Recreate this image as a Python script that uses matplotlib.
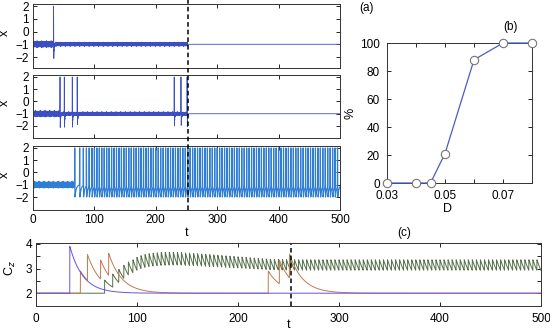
import numpy as np
import matplotlib
matplotlib.use("Agg")
import matplotlib.pyplot as plt
from matplotlib.lines import Line2D

plt.rcParams['font.family'] = ['Liberation Sans', 'DejaVu Sans']
plt.rcParams['font.size'] = 8.5

# ---------------- data ----------------
t_end = 500.0
switch_t = 252.0                      # dashed line (noise switched off)
# spike times of the three x(t) traces
spikes_a1 = [33.5]
spikes_a2 = [44.0, 51.0, 64.0, 72.0, 230.0, 241.0, 251.0]
spikes_a3_early = [68.0, 76.0, 82.0, 87.0, 91.5, 96.0]
a3_period = 4.0                       # regular firing after onset
# hand-typed noise texture around the rest state x = -1
noise_vals = [0.12, -0.08, 0.18, -0.15, 0.05, -0.20, 0.10, 0.02, -0.12, 0.22,
              -0.05, 0.08, -0.18, 0.14, -0.02, 0.16, -0.10, 0.04, -0.22, 0.09,
              0.20, -0.06, 0.11, -0.16, 0.03, -0.09, 0.19, -0.13, 0.07, -0.01,
              0.15, -0.19, 0.06, 0.13, -0.11, 0.01, -0.17, 0.21, -0.04, 0.10,
              -0.14, 0.17, -0.07, 0.05, -0.21, 0.12, 0.00, -0.10, 0.18, -0.03,
              0.08, -0.15, 0.14, -0.08, 0.23, -0.12, 0.02, -0.18, 0.11, -0.05,
              0.09, -0.24, 0.16, -0.02, 0.06, -0.13, 0.28, -0.07, 0.04, -0.26,
              0.13, -0.01, 0.07, -0.11, 0.19, -0.16, 0.03]
x_rest = -1.0
x_peak = 2.0
x_trough = -2.0

# panel (b)
D_vals = [0.03, 0.04, 0.045, 0.05, 0.06, 0.07, 0.08]
pct_vals = [0, 0, 0, 21, 88, 100, 100]

# panel (c): C_z responses (jump heights at spike times, decay time)
cz_base = 2.0
purple_jumps = [1.9]
brown_jumps = [0.90, 1.04, 0.77, 0.89, 0.90, 0.96, 0.97]
tau_purple = 13.0
tau_brown = 13.0
tau_green = 10.5
green_jump_t = [68, 130, 230, 500]
green_jump_J = [0.53, 0.53, 0.43, 0.43]

# ---------------- build traces ----------------
dt = 0.1
t = np.arange(0, t_end + dt, dt)
nv = np.array(noise_vals)


def noise(offset):
    return nv[(np.arange(t.size) + offset) % nv.size]


def x_trace(spikes, offset, noisy_until, rec_tau):
    x = np.full(t.size, x_rest) + np.where(t < noisy_until, noise(offset), 0.0)
    sp = list(spikes) + [t_end + 10]
    for k, ts in enumerate(sp[:-1]):
        nxt = sp[k + 1]
        up = (t >= ts - 0.3) & (t < ts)
        x[up] = x_rest + (x_peak - x_rest) * (t[up] - (ts - 0.3)) / 0.3
        dn = (t >= ts) & (t < ts + 0.4)
        x[dn] = x_peak - (x_peak - x_trough) * (t[dn] - ts) / 0.4
        rec = (t >= ts + 0.4) & (t < nxt - 0.3)
        base = x_rest + np.where(t[rec] < noisy_until, 0.6 * noise(offset)[rec], 0.0)
        x[rec] = base - (x_rest - x_trough) * np.exp(-(t[rec] - ts - 0.4) / rec_tau)
    return x


spikes_a3 = list(spikes_a3_early) + list(np.arange(spikes_a3_early[-1] + a3_period,
                                                    t_end, a3_period))
x1 = x_trace(spikes_a1, 0, switch_t, 0.5)
x2 = x_trace(spikes_a2, 23, switch_t, 0.5)
x3 = x_trace(spikes_a3, 41, spikes_a3_early[0], 2.0)


def cz(spikes, jumps, tau):
    c = np.full(t.size, cz_base)
    for ts, J in zip(spikes, jumps):
        m = t >= ts
        c[m] += J * np.exp(-(t[m] - ts) / tau)
    return c


cz_purple = cz(spikes_a1, purple_jumps, tau_purple)
cz_brown = cz(spikes_a2, brown_jumps, tau_brown)
cz_green = cz(spikes_a3, np.interp(spikes_a3, green_jump_t, green_jump_J), tau_green)

# ---------------- figure ----------------
W, H = 550, 330
fig = plt.figure(figsize=(W / 100, H / 100), dpi=100)


def box(x0, y0, x1_, y1_):
    return [x0 / W, 1 - y1_ / H, (x1_ - x0) / W, (y1_ - y0) / H]


col_a = '#3b4fc2'
col_a3 = '#2f7dd4'
tick_kw = dict(direction='in', top=True, right=True, length=3, width=0.6,
               pad=3, labelsize=8.5)

axes_a = []
specs = [((33, 4, 340, 68), (-2.86, 2.16), x1, col_a, 0.6),
         ((33, 75, 340, 138), (-2.98, 2.16), x2, col_a, 0.6),
         ((33, 146, 340, 210), (-3.06, 2.16), x3, col_a3, 0.85)]
for i, (bx, yl, xs, col, lw) in enumerate(specs):
    ax = fig.add_axes(box(*bx))
    ax.plot(t, xs, color=col, lw=lw)
    ax.set_xlim(0, 500)
    ax.set_ylim(*yl)
    ax.set_yticks([-2, -1, 0, 1, 2])
    ax.set_xticks([0, 100, 200, 300, 400, 500])
    ax.tick_params(**tick_kw)
    ax.set_ylabel('x', fontsize=9)
    ax.yaxis.set_label_coords(-0.072, 0.55)
    if i < 2:
        ax.set_xticklabels([])
    for s in ax.spines.values():
        s.set_linewidth(0.7)
        s.set_color('#333333')
    axes_a.append(ax)
axes_a[2].set_xlabel('t', fontsize=9)
axes_a[2].xaxis.set_label_coords(0.5, -0.26)

# dashed line across panel (a)
xf = fig.transFigure.inverted().transform(axes_a[0].transData.transform((switch_t, 0)))[0]
yb = fig.transFigure.inverted().transform(axes_a[2].transAxes.transform((0, 0)))[1]
fig.add_artist(Line2D([xf, xf], [yb, 1.0], transform=fig.transFigure,
                      color='black', lw=1.1, ls=(0, (3, 2))))

# panel (b)
axb = fig.add_axes(box(387, 43, 532, 183))
axb.plot(D_vals, pct_vals, color='#4a5cc4', lw=0.9, marker='o', ms=6,
         mfc='white', mec='#777777', mew=0.8, clip_on=False, zorder=3)
axb.set_xlim(0.03, 0.08)
axb.set_ylim(0, 100)
axb.set_xticks([0.03, 0.04, 0.05, 0.06, 0.07, 0.08])
axb.set_xticklabels(['0.03', '', '0.05', '', '0.07', ''])
axb.set_yticks([0, 20, 40, 60, 80, 100])
axb.tick_params(**tick_kw)
axb.tick_params(axis='y', pad=5)
axb.tick_params(axis='x', pad=5)
for s in axb.spines.values():
    s.set_linewidth(0.7)
    s.set_color('#333333')
axb.set_xlabel('D', fontsize=9)
axb.xaxis.set_label_coords(0.414, -0.14)
axb.set_ylabel('%', fontsize=9)
axb.yaxis.set_label_coords(-0.21, 0.5)

fig.text(367 / W, 1 - 8 / H, '(a)', ha='center', va='center', fontsize=8.5)
fig.text(510 / W, 1 - 27 / H, '(b)', ha='center', va='center', fontsize=8.5)
fig.text(404 / W, 1 - 233 / H, '(c)', ha='center', va='center', fontsize=8.5)

# panel (c)
axc = fig.add_axes(box(36, 243, 541, 306))
axc.plot(t, cz_green, color='#55704a', lw=0.7)
axc.plot(t, cz_brown, color='#c27a4e', lw=0.7)
axc.plot(t, cz_purple, color='#6a52e0', lw=0.7)
axc.axvline(switch_t, color='black', lw=1.1, ls=(0, (3, 2)))
axc.set_xlim(0, 500)
axc.set_ylim(1.48, 4.04)
axc.set_yticks([2, 3, 4])
axc.set_yticks([2.5, 3.5], minor=True)
axc.set_xticks([0, 100, 200, 300, 400, 500])
axc.tick_params(**tick_kw)
axc.tick_params(axis='x', pad=5)
axc.tick_params(which='minor', direction='in', right=True, length=3, width=0.6)
for s in axc.spines.values():
    s.set_linewidth(0.7)
    s.set_color('#333333')
axc.set_ylabel('C$_z$', fontsize=9)
axc.yaxis.set_label_coords(-0.036, 0.6)
axc.set_xlabel('t', fontsize=9)
axc.xaxis.set_label_coords(0.5, -0.2)

fig.savefig('out.png', dpi=100)
